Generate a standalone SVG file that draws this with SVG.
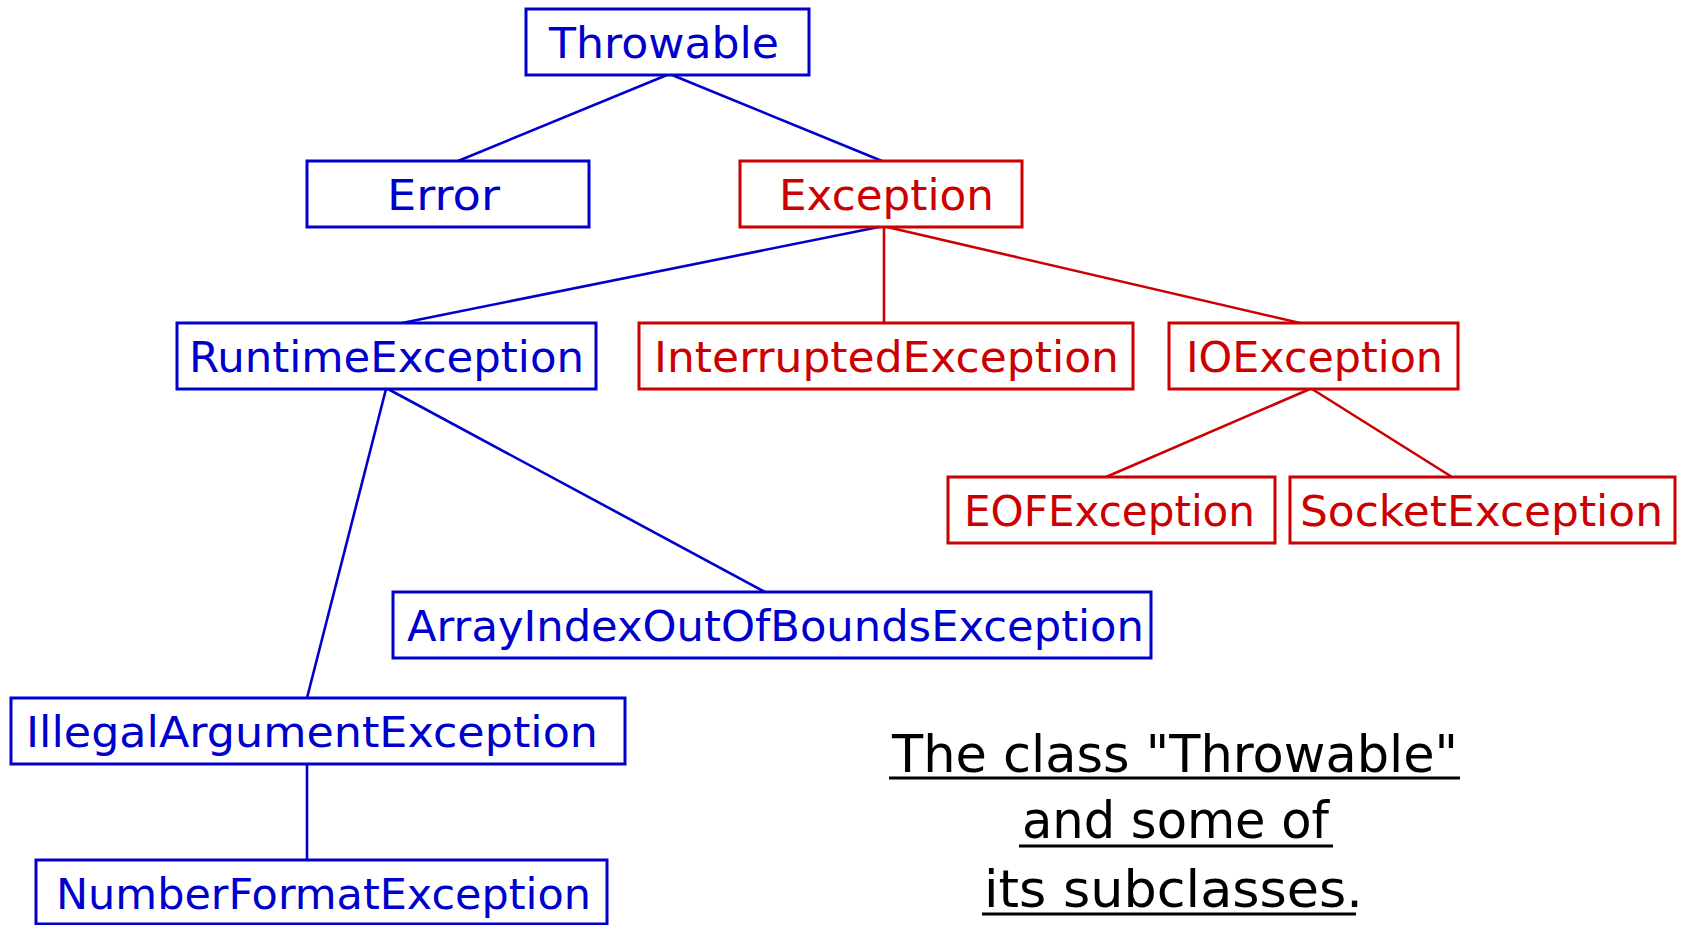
<svg xmlns="http://www.w3.org/2000/svg" width="1681" height="925" viewBox="0 0 1681 925">
<style>
.b rect{fill:#fff;stroke:#0000cc;stroke-width:3}
.r rect{fill:#fff;stroke:#cc0000;stroke-width:3}
.b text{fill:#0000cc}
.r text{fill:#cc0000}
text{font-family:"DejaVu Sans","Liberation Sans",sans-serif;font-size:42px}
.cb{stroke:#0000cc;stroke-width:2.6;fill:none}
.cr{stroke:#cc0000;stroke-width:2.6;fill:none}
.cap{fill:#000;font-size:52px}
.ul{stroke:#000;stroke-width:3}
</style>
<rect width="1681" height="925" fill="#fff"/>
<g id="connectors">
<line class="cb" x1="667" y1="75" x2="458" y2="161"/>
<line class="cb" x1="672" y1="75" x2="882" y2="161"/>
<line class="cb" x1="879" y1="227" x2="402" y2="323"/>
<line class="cr" x1="884" y1="227" x2="884" y2="323"/>
<line class="cr" x1="887" y1="227" x2="1300" y2="323"/>
<line class="cb" x1="388" y1="389" x2="765" y2="592"/>
<line class="cb" x1="386" y1="389" x2="307" y2="698"/>
<line class="cb" x1="307" y1="764" x2="307" y2="860"/>
<line class="cr" x1="1310" y1="389" x2="1106" y2="477"/>
<line class="cr" x1="1312" y1="389" x2="1452" y2="477"/>
</g>
<g id="throwable" class="b"><rect x="526" y="9" width="283" height="66"/><text x="549" y="58" textLength="230" lengthAdjust="spacingAndGlyphs">Throwable</text></g>
<g id="error" class="b"><rect x="307" y="161" width="282" height="66"/><text x="387" y="210" textLength="113" lengthAdjust="spacingAndGlyphs">Error</text></g>
<g id="exception" class="r"><rect x="740" y="161" width="282" height="66"/><text x="779" y="210" textLength="215" lengthAdjust="spacingAndGlyphs">Exception</text></g>
<g id="runtimeexception" class="b"><rect x="177" y="323" width="419" height="66"/><text x="189" y="372" textLength="395" lengthAdjust="spacingAndGlyphs">RuntimeException</text></g>
<g id="interruptedexception" class="r"><rect x="639" y="323" width="494" height="66"/><text x="654" y="372" textLength="465" lengthAdjust="spacingAndGlyphs">InterruptedException</text></g>
<g id="ioexception" class="r"><rect x="1169" y="323" width="289" height="66"/><text x="1186" y="372" textLength="257" lengthAdjust="spacingAndGlyphs">IOException</text></g>
<g id="eofexception" class="r"><rect x="948" y="477" width="327" height="66"/><text x="964" y="526" textLength="291" lengthAdjust="spacingAndGlyphs">EOFException</text></g>
<g id="socketexception" class="r"><rect x="1290" y="477" width="385" height="66"/><text x="1300" y="526" textLength="363" lengthAdjust="spacingAndGlyphs">SocketException</text></g>
<g id="arrayindexoutofboundsexception" class="b"><rect x="393" y="592" width="758" height="66"/><text x="407" y="641" textLength="737" lengthAdjust="spacingAndGlyphs">ArrayIndexOutOfBoundsException</text></g>
<g id="illegalargumentexception" class="b"><rect x="11" y="698" width="614" height="66"/><text x="26" y="747" textLength="572" lengthAdjust="spacingAndGlyphs">IllegalArgumentException</text></g>
<g id="numberformatexception" class="b"><rect x="36" y="860" width="571" height="64"/><text x="56" y="909" textLength="535" lengthAdjust="spacingAndGlyphs">NumberFormatException</text></g>
<g id="caption">
<text class="cap" x="892" y="772" textLength="566" lengthAdjust="spacingAndGlyphs">The class "Throwable"</text>
<line class="ul" x1="889" y1="778" x2="1460" y2="778"/>
<text class="cap" x="1022" y="838" textLength="307" lengthAdjust="spacingAndGlyphs">and some of</text>
<line class="ul" x1="1019" y1="846" x2="1333" y2="846"/>
<text class="cap" x="984" y="907" textLength="379" lengthAdjust="spacingAndGlyphs">its subclasses.</text>
<line class="ul" x1="982" y1="914" x2="1356" y2="914"/>
</g>
</svg>
